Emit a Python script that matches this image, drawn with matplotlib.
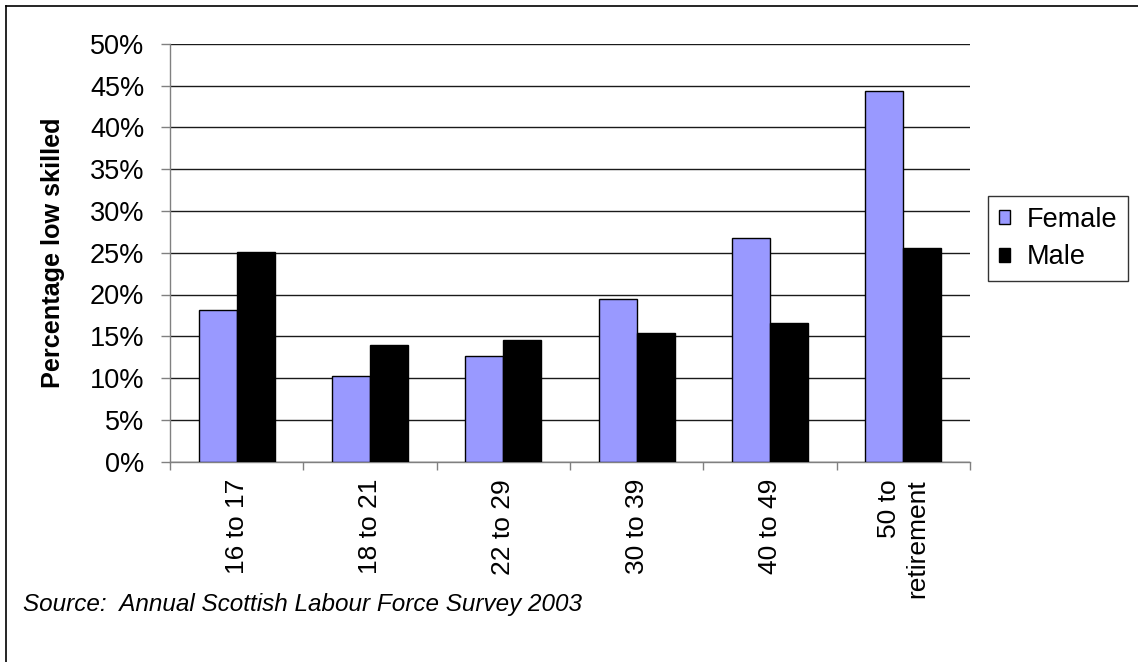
import matplotlib
matplotlib.use("Agg")
import matplotlib.pyplot as plt
import numpy as np
from matplotlib.lines import Line2D
from matplotlib.ticker import FixedLocator, FuncFormatter

plt.rcParams['font.family'] = ['Liberation Sans', 'DejaVu Sans']

# Age bands and share of workers in low-skilled jobs (%)
age_bands = ["16 to 17", "18 to 21", "22 to 29", "30 to 39", "40 to 49", "50 to\nretirement"]
female = [18.1, 10.3, 12.6, 19.5, 26.7, 44.3]
male = [25.1, 14.0, 14.6, 15.4, 16.6, 25.6]
y_ticks = [0, 5, 10, 15, 20, 25, 30, 35, 40, 45, 50]

W, H = 1138, 662
fig = plt.figure(figsize=(W / 100, H / 100), dpi=100)
ax = fig.add_axes([170 / W, 1 - 461.7 / H, 800 / W, 418 / H])

x = np.arange(len(age_bands))
bw = 1 / 3.5
ax.bar(x - bw / 2, female, bw, color="#9999FF", edgecolor="black", linewidth=1.0,
       label="Female", zorder=3)
ax.bar(x + bw / 2, male, bw, color="black", edgecolor="black", linewidth=1.0,
       label="Male", zorder=3)

ax.set_xlim(-0.5, len(age_bands) - 0.5)
ax.set_ylim(0, 50)
ax.yaxis.set_major_locator(FixedLocator(y_ticks))
ax.yaxis.set_major_formatter(FuncFormatter(lambda v, p: f"{v:.0f}%"))
ax.grid(axis="y", color="#1a1a1a", linewidth=1.0, zorder=0)
ax.set_axisbelow(True)

for s in ("top", "right"):
    ax.spines[s].set_visible(False)
for s in ("left", "bottom"):
    ax.spines[s].set_color("#808080")
    ax.spines[s].set_linewidth(1.0)

ax.tick_params(axis="y", direction="out", length=6.5, width=1.0, color="#808080",
               labelsize=19.5, pad=12)
ax.set_xticks(x)
ax.set_xticklabels(age_bands, rotation=90, fontsize=19, multialignment="right")
ax.tick_params(axis="x", which="major", length=0, pad=12.5)
ax.set_xticks(np.arange(len(age_bands) + 1) - 0.5, minor=True)
ax.tick_params(axis="x", which="minor", direction="out", length=6, width=1.0,
               color="#808080")

ax.set_ylabel("Percentage low skilled", fontsize=18.2, fontweight="bold", labelpad=18)

leg = fig.legend(loc="upper left", bbox_to_anchor=(988 / W, 1 - 196 / H),
                 fontsize=19.5, frameon=True, fancybox=False, shadow=False,
                 handlelength=0.42, handleheight=0.42, handletextpad=0.6,
                 borderpad=0.4, labelspacing=0.42, borderaxespad=0)
leg.get_frame().set_edgecolor("black")
leg.get_frame().set_linewidth(1.0)

fig.text(23 / W, 1 - 611 / H, "Source:  Annual Scottish Labour Force Survey 2003",
         fontsize=17.5, style="italic", va="baseline", ha="left")

# Frame around the chart area (top and left edges)
fig.add_artist(Line2D([6 / W, 6 / W], [0, 1 - 6 / H], transform=fig.transFigure,
                      color="black", linewidth=1.2))
fig.add_artist(Line2D([6 / W, 1], [1 - 6 / H, 1 - 6 / H], transform=fig.transFigure,
                      color="black", linewidth=1.2))

fig.savefig("out.png", dpi=100)
